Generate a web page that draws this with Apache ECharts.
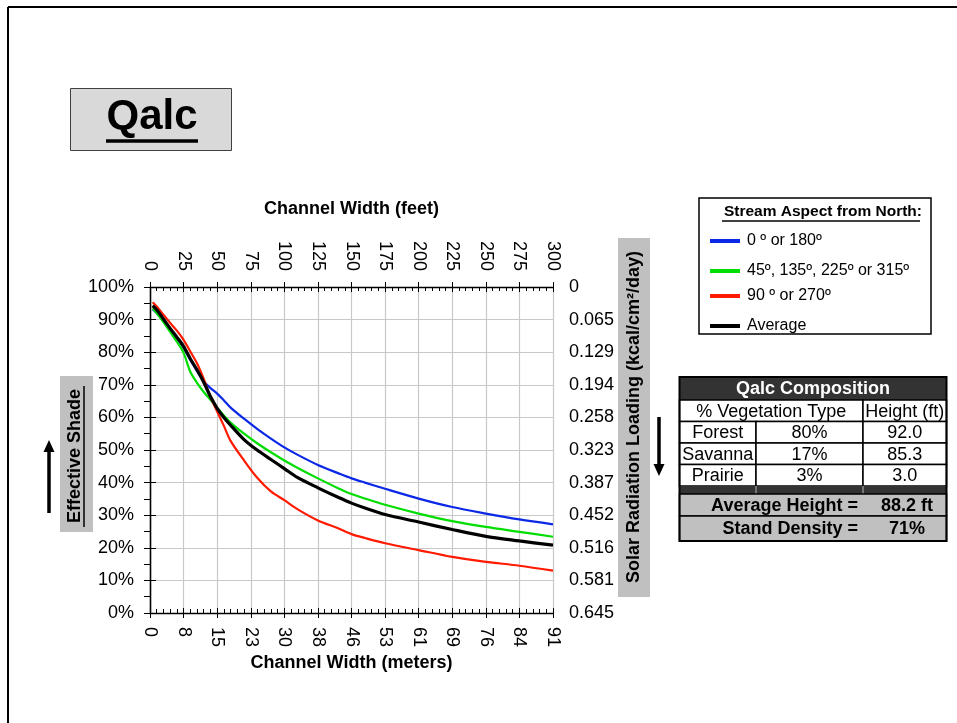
<!DOCTYPE html>
<html>
<head>
<meta charset="utf-8">
<script src="https://cdn.jsdelivr.net/npm/echarts@6/dist/echarts.min.js"></script>
<style>
  html, body { margin: 0; padding: 0; background: #fff; }
  #chart { width: 957px; height: 723px; }
</style>
</head>
<body>
<div id="chart"></div>
<script>
// ---- data -------------------------------------------------------------
const siteName = 'Qalc';

// channel width (feet) at which shade was sampled
const widthFeet = [2, 5, 10, 15, 20, 25, 30, 35, 40, 45, 50, 55, 60, 70, 80, 90,
                   100, 110, 125, 140, 150, 160, 175, 200, 225, 250, 275, 300];

// effective shade (%) by stream aspect
const shadeNS   = [93.2, 92.0, 89.6, 87.0, 84.3, 81.4, 77.6, 74.2, 71.0, 69.0, 67.3, 65.2, 63.0, 59.6, 56.4, 53.5,
                   50.8, 48.5, 45.4, 42.9, 41.3, 40.0, 38.1, 35.1, 32.5, 30.5, 28.7, 27.2];
const shadeDiag = [93.5, 92.0, 89.2, 86.2, 83.2, 79.8, 74.0, 70.6, 67.8, 65.4, 63.0, 60.6, 58.4, 55.0, 52.0, 49.3,
                   46.8, 44.5, 41.3, 38.3, 36.5, 35.1, 33.2, 30.5, 28.2, 26.4, 24.9, 23.4];
const shadeEW   = [95.3, 94.0, 91.5, 89.0, 86.6, 83.8, 80.2, 76.6, 71.8, 66.2, 61.8, 57.4, 52.8, 46.8, 41.4, 37.3,
                   34.6, 31.8, 28.4, 26.0, 24.2, 23.0, 21.4, 19.3, 17.2, 15.7, 14.5, 13.0];
const shadeAvg  = [94.3, 93.0, 90.2, 87.3, 84.6, 81.8, 78.0, 74.6, 70.8, 66.4, 62.8, 60.0, 57.6, 53.2, 49.9, 47.1,
                   44.3, 41.5, 38.4, 35.5, 33.7, 32.2, 30.2, 27.9, 25.6, 23.5, 22.1, 20.8];

const aspectNames  = ['0 º or 180º', '45º, 135º, 225º or 315º', '90 º or 270º', 'Average'];
const aspectColors = ['#0a28e6', '#00dd00', '#ff1a00', '#000000'];

// tick labels
const feetTicks   = ['0', '25', '50', '75', '100', '125', '150', '175', '200', '225', '250', '275', '300'];
const meterTicks  = ['0', '8', '15', '23', '30', '38', '46', '53', '61', '69', '76', '84', '91'];
const solarTicks  = ['0', '0.065', '0.129', '0.194', '0.258', '0.323', '0.387', '0.452', '0.516', '0.581', '0.645'];
const feetStep = 25;
const solarMax = 0.645;

// composition table
const compTitle    = 'Qalc Composition';
const compHeader   = ['% Vegetation Type', 'Height (ft)'];
const vegTypes     = ['Forest', 'Savanna', 'Prairie'];
const vegPercent   = ['80%', '17%', '3%'];
const vegHeight    = ['92.0', '85.3', '3.0'];
const summaryLabel = ['Average Height =', 'Stand Density ='];
const summaryValue = ['88.2 ft', '71%'];

// ---- helpers ----------------------------------------------------------
const FONT = '"Liberation Sans", Arial, Helvetica, sans-serif';
const G = [];
function rect(x, y, w, h, fill, stroke, lw) {
  G.push({ type: 'rect', silent: true, shape: { x, y, width: w, height: h },
           style: { fill: fill || 'none', stroke: stroke || null, lineWidth: lw || 1 } });
}
function text(str, x, y, o) {
  o = o || {};
  G.push({ type: 'text', silent: true, x, y, rotation: o.rot || 0,
           style: { text: str, fill: o.color || '#000', fontSize: o.size || 18,
                    fontWeight: o.bold ? 'bold' : 'normal', fontFamily: FONT,
                    align: o.align || 'center', verticalAlign: 'middle' } });
}
function seg(x1, y1, x2, y2, lw, color) {
  G.push({ type: 'line', silent: true, shape: { x1, y1, x2, y2 },
           style: { stroke: color || '#000', lineWidth: lw || 1 } });
}
function tri(points) {
  G.push({ type: 'polygon', silent: true, shape: { points }, style: { fill: '#000' } });
}

// page frame
seg(8, 7, 957, 7, 2);
seg(8, 7, 8, 723, 2);

// site title box
rect(70.5, 88.5, 161, 62, '#d9d9d9', '#404040', 1);
text(siteName, 152, 117.5, { size: 42, bold: true });
seg(106, 141, 198, 141, 3.5);

// left axis caption with arrow
rect(60, 376, 33, 156, '#c0c0c0');
text('Effective Shade', 75, 456, { bold: true, rot: Math.PI / 2 });
seg(84, 386, 84, 527, 1.5);
seg(49, 513, 49, 450, 3.5);
tri([[43.5, 452], [54.5, 452], [49, 440]]);

// right axis caption with arrow
rect(618, 238, 32, 359, '#c0c0c0');
text('Solar Radiation Loading (kcal/cm²/day)', 634, 417, { bold: true, rot: Math.PI / 2 });
seg(659, 417, 659, 466, 3.5);
tri([[653.5, 464], [664.5, 464], [659, 476]]);

// legend frame and heading
rect(699, 198, 232, 136, '#fff', '#000', 1.5);
text('Stream Aspect from North:', 922, 212, { size: 15.5, bold: true, align: 'right' });
seg(722, 221, 920, 221, 1.5);

// composition table
const tx = [679.5, 756, 863, 946.5];
const ty = [377, 400, 421.5, 443, 464.5, 486, 494, 516, 541];
rect(tx[0], ty[0], tx[3] - tx[0], ty[1] - ty[0], '#333333');
text(compTitle, (tx[0] + tx[3]) / 2, (ty[0] + ty[1]) / 2 + 1, { bold: true, color: '#fff' });
rect(tx[0], ty[1], tx[2] - tx[0], ty[2] - ty[1], '#fff', '#000', 1.5);
rect(tx[2], ty[1], tx[3] - tx[2], ty[2] - ty[1], '#fff', '#000', 1.5);
text(compHeader[0], (tx[0] + tx[2]) / 2, (ty[1] + ty[2]) / 2 + 1);
text(compHeader[1], (tx[2] + tx[3]) / 2, (ty[1] + ty[2]) / 2 + 1);
vegTypes.forEach((t, i) => {
  const y0 = ty[2 + i], y1 = ty[3 + i], cy = (y0 + y1) / 2 + 1;
  rect(tx[0], y0, tx[1] - tx[0], y1 - y0, '#fff', '#000', 1.5);
  rect(tx[1], y0, tx[2] - tx[1], y1 - y0, '#fff', '#000', 1.5);
  rect(tx[2], y0, tx[3] - tx[2], y1 - y0, '#fff', '#000', 1.5);
  text(t, (tx[0] + tx[1]) / 2, cy);
  text(vegPercent[i], (tx[1] + tx[2]) / 2, cy);
  text(vegHeight[i], (tx[2] + tx[3]) / 2, cy);
});
rect(tx[0], ty[5], tx[3] - tx[0], ty[6] - ty[5], '#333333');
seg(tx[1], ty[5], tx[1], ty[6], 1.5, '#8a8a8a');
seg(tx[2], ty[5], tx[2], ty[6], 1.5, '#8a8a8a');
summaryLabel.forEach((t, i) => {
  const y0 = ty[6 + i], y1 = ty[7 + i], cy = (y0 + y1) / 2 + 1;
  rect(tx[0], y0, tx[3] - tx[0], y1 - y0, '#c0c0c0', '#000', 1.5);
  text(t, 858, cy, { bold: true, align: 'right' });
  text(summaryValue[i], 907, cy, { bold: true });
});
rect(tx[0], ty[0], tx[3] - tx[0], ty[8] - ty[0], null, '#000', 2);

// ---- chart ------------------------------------------------------------
const series = [shadeNS, shadeDiag, shadeEW, shadeAvg].map((vals, i) => ({
  name: aspectNames[i],
  type: 'line',
  xAxisIndex: 0,
  yAxisIndex: 0,
  data: widthFeet.map((w, k) => [w, vals[k]]),
  showSymbol: false,
  smooth: 0.3,
  z: i === 3 ? 5 : 3,
  lineStyle: { color: aspectColors[i], width: i === 3 ? 3.2 : 2.2 },
  itemStyle: { color: aspectColors[i] }
}));

const legendY = [237, 267, 292, 322];
const legends = aspectNames.map((n, i) => ({
  data: [n],
  left: 705,
  top: legendY[i] - 9,
  icon: 'rect',
  itemWidth: 30,
  itemHeight: 4,
  selectedMode: false,
  textStyle: { fontFamily: FONT, fontSize: 16, color: '#000', padding: [0, 0, 0, 2] }
}));

const axisFont = { fontFamily: FONT, fontSize: 18, color: '#000' };
const gridLine = { show: true, lineStyle: { color: '#c8c8c8', width: 1.2 } };
const blackLine = { show: true, lineStyle: { color: '#000', width: 1.3 } };
const xBase = { type: 'value', min: 0, max: 300, interval: feetStep };
const yBase = { type: 'value', min: 0, max: 100, interval: 10 };

const option = {
  animation: false,
  backgroundColor: '#fff',
  graphic: { elements: G },
  legend: legends,
  grid: { left: 150, top: 287, width: 403, height: 326, containLabel: false },
  xAxis: [
    Object.assign({}, xBase, {
      position: 'bottom',
      name: 'Channel Width (meters)', nameLocation: 'middle', nameGap: 50,
      nameTextStyle: { fontFamily: FONT, fontSize: 18, fontWeight: 'bold', color: '#000', verticalAlign: 'middle' },
      axisLine: blackLine,
      axisTick: { show: true, inside: true, length: 5, lineStyle: { color: '#000' } },
      minorTick: { show: true, splitNumber: 5, length: 4, lineStyle: { color: '#000' } },
      splitLine: gridLine,
      axisLabel: Object.assign({ rotate: -90, margin: 14,
        formatter: v => meterTicks[Math.round(v / feetStep)] }, axisFont)
    }),
    Object.assign({}, xBase, {
      position: 'top',
      name: 'Channel Width (feet)', nameLocation: 'middle', nameGap: 78,
      nameTextStyle: { fontFamily: FONT, fontSize: 18, fontWeight: 'bold', color: '#000', verticalAlign: 'middle' },
      axisLine: blackLine,
      axisTick: { show: true, inside: true, length: 5, lineStyle: { color: '#000' } },
      minorTick: { show: true, splitNumber: 5, length: 4, lineStyle: { color: '#000' } },
      splitLine: { show: false },
      axisLabel: Object.assign({ rotate: -90, margin: 16,
        formatter: v => feetTicks[Math.round(v / feetStep)] }, axisFont)
    }),
    Object.assign({}, xBase, {
      position: 'bottom', axisLine: { show: false }, splitLine: { show: false }, axisLabel: { show: false },
      axisTick: { show: true, inside: false, length: 5, lineStyle: { color: '#000' } }
    }),
    Object.assign({}, xBase, {
      position: 'top', axisLine: { show: false }, splitLine: { show: false }, axisLabel: { show: false },
      axisTick: { show: true, inside: false, length: 5, lineStyle: { color: '#000' } }
    })
  ],
  yAxis: [
    Object.assign({}, yBase, {
      position: 'left',
      axisLine: blackLine,
      axisTick: { show: true, inside: false, length: 6, lineStyle: { color: '#000' } },
      minorTick: { show: true, splitNumber: 2, length: 6, lineStyle: { color: '#000' } },
      splitLine: gridLine,
      axisLabel: Object.assign({ margin: 16, formatter: '{value}%' }, axisFont)
    }),
    {
      type: 'value', position: 'right', inverse: true, min: 0, max: solarMax, interval: solarMax / 10,
      axisLine: blackLine,
      axisTick: { show: true, inside: true, length: 6, lineStyle: { color: '#000' } },
      minorTick: { show: true, splitNumber: 2, length: 6, lineStyle: { color: '#000' } },
      splitLine: { show: false },
      axisLabel: Object.assign({ margin: 16,
        formatter: v => solarTicks[Math.round(v / (solarMax / 10))] }, axisFont)
    },
    Object.assign({}, yBase, {
      position: 'right', axisLine: { show: false }, splitLine: { show: false }, axisLabel: { show: false },
      axisTick: { show: true, inside: false, length: 6, lineStyle: { color: '#000' } }
    })
  ],
  series
};

const chart = echarts.init(document.getElementById('chart'), null, { renderer: 'canvas' });
chart.setOption(option);
</script>
</body>
</html>
